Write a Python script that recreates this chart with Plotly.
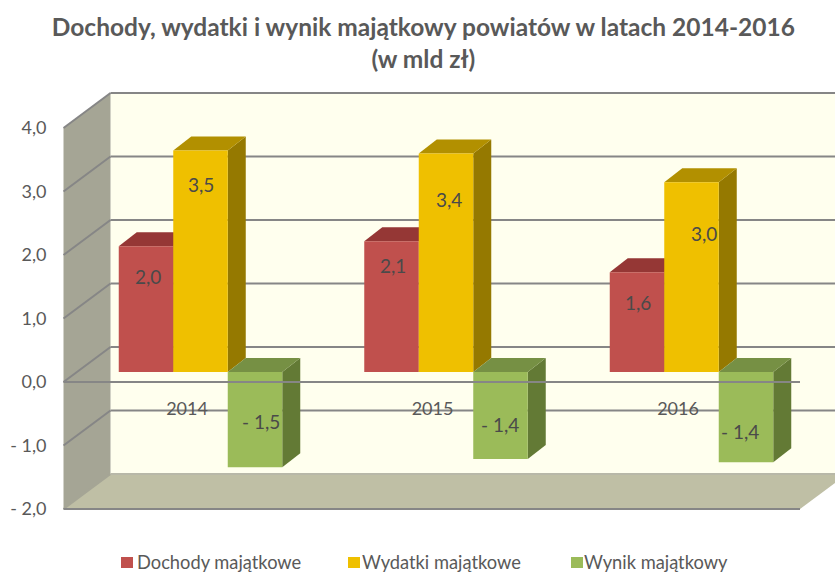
import plotly.graph_objects as go

# --- data ---
years = [2014, 2015, 2016]
series_names = ["Dochody majątkowe", "Wydatki majątkowe", "Wynik majątkowy"]
dochody = [1.98, 2.06, 1.57]
wydatki = [3.49, 3.44, 2.99]
wynik = [-1.50, -1.37, -1.42]
y_ticks = [-2, -1, 0, 1, 2, 3, 4]

# --- styles ---
W, H = 835, 572
PX_YEAR, PX_UNIT = 245.5, 63.5
FONT = "Lato"
TXT = "#595959"
LINE = "#868686"
fronts = ["#C0504D", "#EFC000", "#9BBB59"]
tops = ["#953735", "#B29000", "#769044"]
sides = ["#7F2E2C", "#957900", "#637A35"]
offsets = [-0.333, -0.111, 0.111]
bar_w = 0.222
label_dx = [[2, 1, 1], [0, 3, 12], [6, -1, -6]]
label_dy = [[-30, -24, -30], [-34, -46, -51], [46, 35, 31]]
legend_marker_px = [121, 348, 571]
legend_text_px = [138, 363, 585]

# pixel geometry helpers: front plane vs. bar plane vs. back wall
x0_px, y0_px = 187, 382          # 2014 / 0.0 on the front plane
bx0_px, by0_px = 200.5, 372      # 2014 / 0.0 on the plane of the bars
xr = [2014 - x0_px / PX_YEAR, 2014 + (W - x0_px) / PX_YEAR]
yr = [-(H - y0_px) / PX_UNIT, y0_px / PX_UNIT]
x2r = [2014 - bx0_px / PX_YEAR, 2014 + (W - bx0_px) / PX_YEAR]
y2r = [-(H - by0_px) / PX_UNIT, by0_px / PX_UNIT]
left = 2014 + (63.5 - x0_px) / PX_YEAR
right = 2014 + (800 - x0_px) / PX_YEAR
wall_dx, wall_dy = 47 / PX_YEAR, 35 / PX_UNIT
bar_dx, bar_dy = 18 / PX_YEAR, 14 / PX_UNIT

def fmt(v):
    s = f"{abs(v):.1f}".replace(".", ",")
    return ("- " + s) if v < 0 else s

fig = go.Figure()
values = [dochody, wydatki, wynik]
for i, (name, vals) in enumerate(zip(series_names, values)):
    for yr_, v in zip(years, vals):
        xa = yr_ + offsets[i]
        xb = xa + bar_w
        ytop = max(v, 0)
        ybot = min(v, 0)
        fig.add_trace(go.Scatter(
            x=[xb, xb + bar_dx, xb + bar_dx, xb, xb],
            y=[ytop, ytop + bar_dy, ybot + bar_dy, ybot, ytop],
            mode="lines", fill="toself", fillcolor=sides[i], line=dict(width=0),
            showlegend=False, hoverinfo="skip", xaxis="x2", yaxis="y2", zorder=2 * i))
        fig.add_trace(go.Scatter(
            x=[xa, xa + bar_dx, xb + bar_dx, xb, xa],
            y=[ytop, ytop + bar_dy, ytop + bar_dy, ytop, ytop],
            mode="lines", fill="toself", fillcolor=tops[i], line=dict(width=0),
            showlegend=False, hoverinfo="skip", xaxis="x2", yaxis="y2", zorder=2 * i))
    fig.add_trace(go.Bar(
        x=years, y=vals, name=name, width=bar_w, offset=offsets[i],
        marker=dict(color=fronts[i], line=dict(width=0)), showlegend=False,
        xaxis="x2", yaxis="y2", zorder=2 * i + 1))
    for j, (yr_, v) in enumerate(zip(years, vals)):
        fig.add_annotation(
            x=yr_ + offsets[i] + bar_w / 2, y=v, xref="x2", yref="y2",
            text=fmt(v), showarrow=False, xshift=label_dx[i][j], yshift=label_dy[i][j],
            font=dict(family=FONT, size=19, color="#4A4A4A"))
    # legend entry
    fig.add_annotation(
        x=legend_text_px[i] / W, y=(H - 562) / H, xref="paper", yref="paper",
        xanchor="left", yanchor="middle", text=name, showarrow=False,
        xshift=-3, font=dict(family=FONT, size=18.3, color=TXT))

# walls
def path(*pts):
    return "M " + " L ".join(f"{a},{b}" for a, b in pts) + " Z"

shapes = [
    dict(type="path", path=path((left + wall_dx, -2 + wall_dy), (right + 2 * wall_dx, -2 + wall_dy),
                                (right + 2 * wall_dx, 4 + wall_dy), (left + wall_dx, 4 + wall_dy)),
         fillcolor="#FFFFEE", line=dict(width=0)),
    dict(type="path", path=path((left, -2), (left + wall_dx, -2 + wall_dy),
                                (left + wall_dx, 4 + wall_dy), (left, 4)),
         fillcolor="#A5A595", line=dict(width=0)),
    dict(type="path", path=path((left, -2), (left + wall_dx, -2 + wall_dy),
                                (right + wall_dx, -2 + wall_dy), (right, -2)),
         fillcolor="#BFBFA5", line=dict(width=0)),
]
for v in y_ticks:
    c = "#B8B8A8" if v == -2 else LINE
    shapes.append(dict(type="line", x0=left, y0=v, x1=left + wall_dx, y1=v + wall_dy,
                       line=dict(color=LINE if v != -2 else "#A5A595", width=2)))
    shapes.append(dict(type="line", x0=left + wall_dx, y0=v + wall_dy,
                       x1=right + 2 * wall_dx, y1=v + wall_dy,
                       line=dict(color=c, width=2)))
shapes.append(dict(type="line", x0=left, y0=-2, x1=right, y1=-2, line=dict(color=LINE, width=2)))
for s in shapes:
    s.update(xref="x", yref="y", layer="below")
shapes.append(dict(type="line", x0=left, y0=0, x1=right, y1=0, xref="x", yref="y",
                   layer="above", line=dict(color=LINE, width=2)))
for i, mx in enumerate(legend_marker_px):
    shapes.append(dict(type="rect", xref="paper", yref="paper", layer="above",
                       x0=mx / W, x1=(mx + 12) / W, y0=(H - 568) / H, y1=(H - 557) / H,
                       fillcolor=fronts[i], line=dict(width=0)))

fig.update_layout(
    width=W, height=H, autosize=False, showlegend=False,
    margin=dict(l=0, r=0, t=0, b=0, pad=0),
    paper_bgcolor="white", plot_bgcolor="white",
    barmode="overlay", shapes=shapes,
    font=dict(family=FONT, color=TXT),
    title=dict(text="Dochody, wydatki i wynik majątkowy powiatów w latach 2014-2016<br>(w mld zł)",
               x=0.507, xanchor="center", y=0.937, yanchor="middle",
               font=dict(family=FONT, size=24.5, color=TXT, weight="bold")),
    xaxis=dict(domain=[0, 1], range=xr, tickvals=years, ticktext=[str(y) for y in years],
               anchor="free", position=(H - y0_px) / H, showgrid=False, zeroline=False,
               showline=False, ticks="", ticklabelstandoff=14,
               tickfont=dict(family=FONT, size=18, color=TXT)),
    yaxis=dict(domain=[0, 1], range=yr, tickvals=y_ticks, ticktext=[fmt(v) for v in y_ticks],
               anchor="free", position=63.5 / W, side="left", showgrid=False, zeroline=False,
               showline=False, ticks="", ticklabelstandoff=17,
               tickfont=dict(family=FONT, size=18, color=TXT)),
    xaxis2=dict(overlaying="x", range=x2r, visible=False, anchor="y2"),
    yaxis2=dict(overlaying="y", range=y2r, visible=False, anchor="x2"),
)

fig.write_html("out.html", config={"displayModeBar": False},
               post_script="document.body.style.margin='0';")
